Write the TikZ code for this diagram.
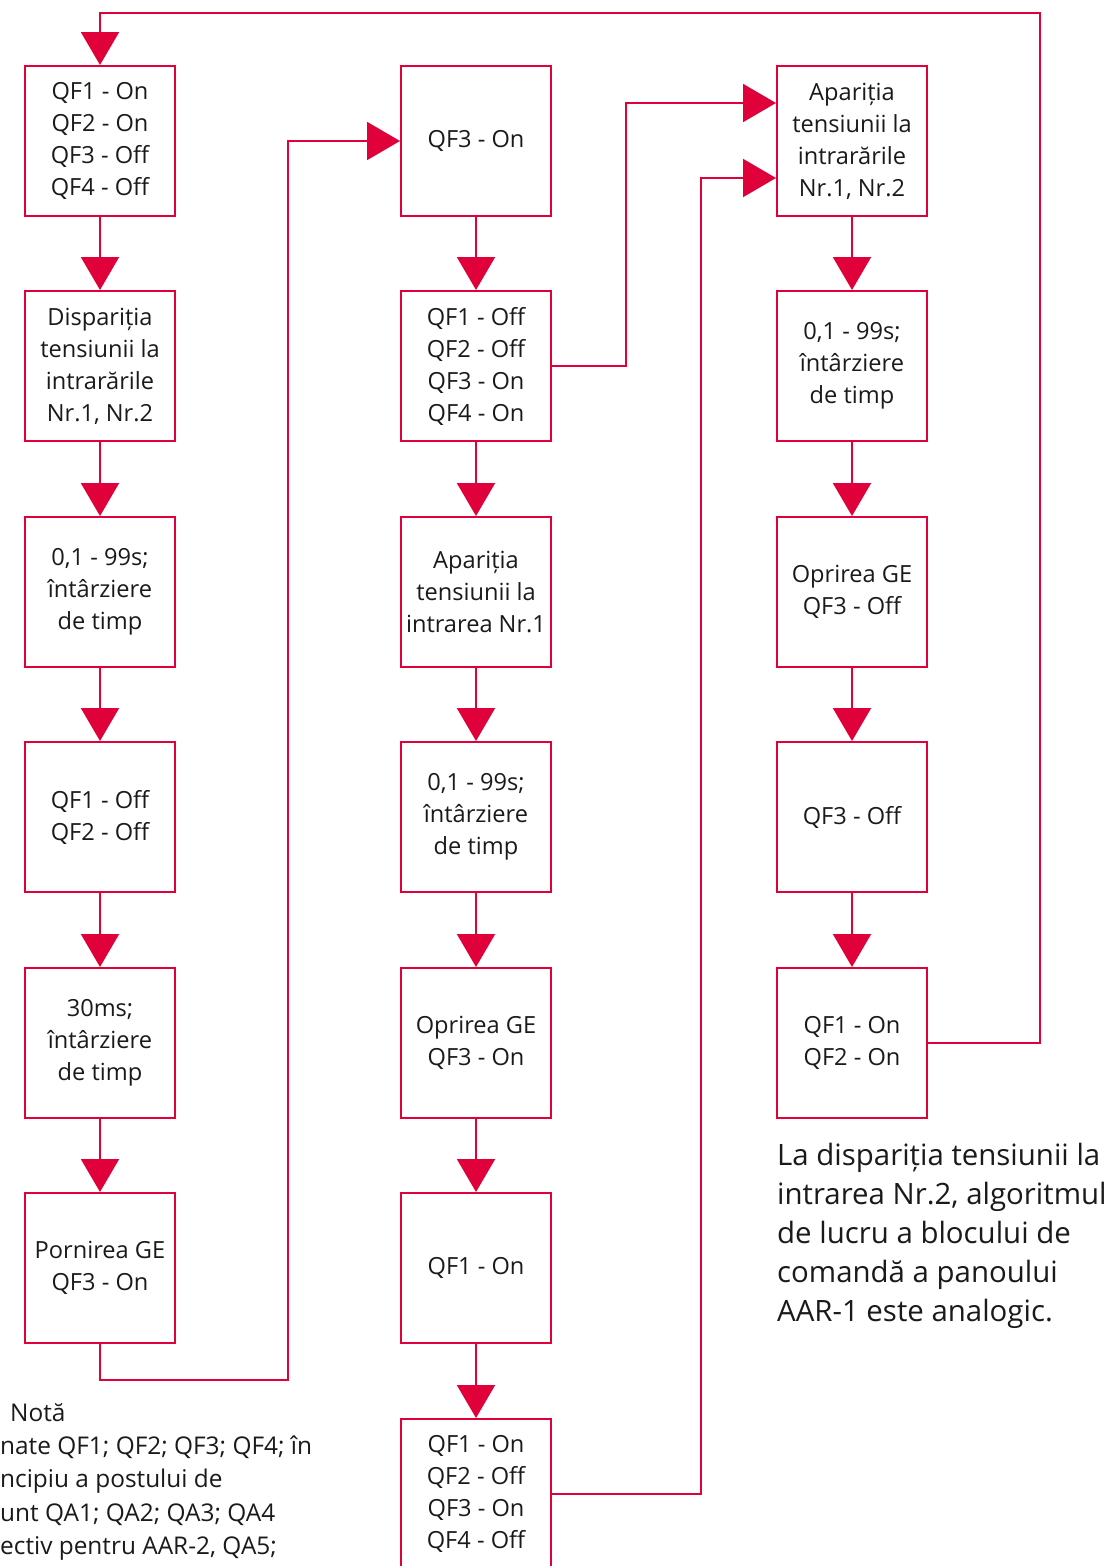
\documentclass[tikz,border=0pt]{standalone}
\usepackage{fontspec}
\setmainfont{Open Sans}
\usetikzlibrary{arrows.meta,calc}
\definecolor{fr}{RGB}{224,0,58}
\definecolor{tx}{RGB}{26,26,26}
\begin{document}
\begin{tikzpicture}[x=1pt,y=-1pt,
  box/.style={draw=fr,line width=2pt,minimum width=150pt,minimum height=150pt,inner sep=0pt,align=center,text=tx,font=\fontsize{23.6}{32}\selectfont},
  arr/.style={draw=fr,line width=2pt,-{Triangle[width=38pt,length=33pt]}},
  note/.style={text=tx,inner sep=0pt,anchor=west,font=\fontsize{24.4}{33}\selectfont}]
\useasboundingbox (0,0) rectangle (1112,1566);
\fill[white] (0,0) rectangle (1112,1566);
% column 1
\node[box] (a1) at (100,141) {QF1 - On\\QF2 - On\\QF3 - Off\\QF4 - Off};
\node[box] (a2) at (100,366) {Dispariția\\tensiunii la\\intrarările\\Nr.1, Nr.2};
\node[box] (a3) at (100,592) {0,1 - 99s;\\întârziere\\de timp};
\node[box] (a4) at (100,817) {QF1 - Off\\QF2 - Off};
\node[box] (a5) at (100,1043) {30ms;\\întârziere\\de timp};
\node[box] (a6) at (100,1268) {Pornirea GE\\QF3 - On};
% column 2
\node[box] (b1) at (476,141) {QF3 - On};
\node[box] (b2) at (476,366) {QF1 - Off\\QF2 - Off\\QF3 - On\\QF4 - On};
\node[box] (b3) at (476,592) {Apariția\\tensiunii la\\intrarea Nr.1};
\node[box] (b4) at (476,817) {0,1 - 99s;\\întârziere\\de timp};
\node[box] (b5) at (476,1043) {Oprirea GE\\QF3 - On};
\node[box] (b6) at (476,1268) {QF1 - On};
\node[box] (b7) at (476,1494) {QF1 - On\\QF2 - Off\\QF3 - On\\QF4 - Off};
% column 3
\node[box] (c1) at (852,141) {Apariția\\tensiunii la\\intrarările\\Nr.1, Nr.2};
\node[box] (c2) at (852,366) {0,1 - 99s;\\întârziere\\de timp};
\node[box] (c3) at (852,592) {Oprirea GE\\QF3 - Off};
\node[box] (c4) at (852,817) {QF3 - Off};
\node[box] (c5) at (852,1043) {QF1 - On\\QF2 - On};
% vertical arrows
\foreach \p/\q in {a1/a2,a2/a3,a3/a4,a4/a5,a5/a6,b1/b2,b2/b3,b3/b4,b4/b5,b5/b6,b6/b7,c1/c2,c2/c3,c3/c4,c4/c5}
  \draw[arr] (\p.south) -- (\q.north);
% connectors
\draw[arr] (c5.east) -- (1040,1043) -- (1040,13) -- (100,13) -- (a1.north);
\draw[arr] (a6.south) -- (100,1380) -- (288,1380) -- (288,141) -- (b1.west);
\draw[arr] (b2.east) -- (626,366) -- (626,103) -- ($(c1.west)+(0,-38)$);
\draw[arr] (b7.east) -- (701,1494) -- (701,178) -- ($(c1.west)+(0,37)$);
% texts
\node[text=tx,inner sep=0pt,anchor=north west,align=left,font=\fontsize{29.4}{39}\selectfont] (r) at (777,1143)
  {La dispariția tensiunii la\\intrarea Nr.2, algoritmul\\de lucru a blocului de\\comandă a panoului\\AAR-1 este analogic.};
\node[note] (n0) at (10,1413) {Notă};
\node[note] (n1) at (0,1447) {nate QF1; QF2; QF3; QF4; în};
\node[note] (n2) at (0,1481) {ncipiu a postului de};
\node[note] (n3) at (0,1515) {unt QA1; QA2; QA3; QA4};
\node[note] (n4) at (0,1548) {ectiv pentru AAR-2, QA5;};
\end{tikzpicture}
\end{document}
